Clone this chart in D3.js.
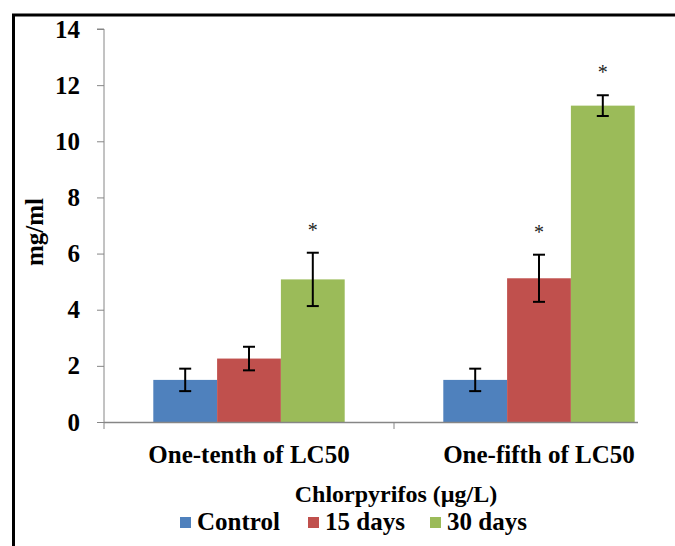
<!DOCTYPE html>
<html>
<head>
<meta charset="utf-8">
<script src="https://cdn.jsdelivr.net/npm/d3@7"></script>
<style>
  html, body { margin: 0; padding: 0; background: #fff; }
  svg { display: block; }
</style>
</head>
<body>
<svg id="chart" width="675" height="546"></svg>
<script>
const categories = ["One-tenth of LC50", "One-fifth of LC50"];
const seriesNames = ["Control", "15 days", "30 days"];
const seriesColors = ["#4F81BD", "#C0504D", "#9BBB59"];
const controlValues = [1.5, 1.5];
const days15Values = [2.26, 5.12];
const days30Values = [5.08, 11.27];
const controlErrors = [0.4, 0.4];
const days15Errors = [0.42, 0.84];
const days30Errors = [0.95, 0.37];
const controlStar = [false, false];
const days15Star = [false, true];
const days30Star = [true, true];
const yTicks = [0, 2, 4, 6, 8, 10, 12, 14];
const yTitle = "mg/ml";
const xTitle = "Chlorpyrifos (µg/L)";

const values = [controlValues, days15Values, days30Values];
const errors = [controlErrors, days15Errors, days30Errors];
const stars = [controlStar, days15Star, days30Star];

const FONT = '"Liberation Serif"';
const svg = d3.select("#chart");
function styleText(sel, size) {
  return sel.style("font-family", FONT).style("font-weight", "bold").style("font-size", size + "px").style("fill", "#000");
}

// outer frame
svg.append("rect").attr("x", 13.5).attr("y", 15).attr("width", 700).attr("height", 560)
  .attr("fill", "none").attr("stroke", "#000").attr("stroke-width", 3);

const y = d3.scaleLinear().domain([0, 14]).range([422, 29]);
const x0 = d3.scaleBand().domain(categories).range([104, 684]).paddingInner(0.34).paddingOuter(0.17);
const x1 = d3.scaleBand().domain(seriesNames).range([0, x0.bandwidth()]);

const axisColor = "#868686";

// y axis
const yAxis = svg.append("g").attr("transform", "translate(104,0)")
  .call(d3.axisLeft(y).tickValues(yTicks).tickSize(7).tickPadding(17));
yAxis.attr("font-family", null);
yAxis.selectAll("path").attr("stroke", axisColor).attr("d", `M-7,${y(14)}H0V${y(0)}`);
yAxis.selectAll("line").attr("stroke", axisColor);
styleText(yAxis.selectAll("text"), 25);

// bars
const data = [];
categories.forEach((c, i) => {
  seriesNames.forEach((s, j) => {
    data.push({ cat: c, ser: s, v: values[j][i], e: errors[j][i], star: stars[j][i], color: seriesColors[j] });
  });
});

svg.append("g").selectAll("rect").data(data).join("rect")
  .attr("x", d => x0(d.cat) + x1(d.ser))
  .attr("y", d => y(d.v))
  .attr("width", x1.bandwidth())
  .attr("height", d => y(0) - y(d.v))
  .attr("fill", d => d.color);

// x axis
const xAxisG = svg.append("g").attr("transform", `translate(0,${y(0)})`);
xAxisG.append("line").attr("x1", 104).attr("x2", 638).attr("y1", 0.5).attr("y2", 0.5)
  .attr("stroke", axisColor).attr("stroke-width", 1.5);
const boundaries = [104, (x0(categories[0]) + x0.bandwidth() + x0(categories[1])) / 2];
xAxisG.selectAll("line.tk").data(boundaries).join("line").attr("class", "tk")
  .attr("x1", d => d).attr("x2", d => d).attr("y1", 0).attr("y2", 7)
  .attr("stroke", axisColor);

styleText(xAxisG.selectAll("text.cat").data(categories).join("text").attr("class", "cat")
  .attr("x", d => x0(d) + x0.bandwidth() / 2)
  .attr("y", 41)
  .attr("text-anchor", "middle"), 25)
  .text(d => d);

// error bars
const eg = svg.append("g").attr("stroke", "#000").attr("stroke-width", 2);
data.forEach(d => {
  const cx = x0(d.cat) + x1(d.ser) + x1.bandwidth() / 2;
  eg.append("line").attr("x1", cx).attr("x2", cx).attr("y1", y(d.v + d.e)).attr("y2", y(d.v - d.e));
  eg.append("line").attr("x1", cx - 6).attr("x2", cx + 6).attr("y1", y(d.v + d.e)).attr("y2", y(d.v + d.e));
  eg.append("line").attr("x1", cx - 6).attr("x2", cx + 6).attr("y1", y(d.v - d.e)).attr("y2", y(d.v - d.e));
  if (d.star) {
    svg.append("text").attr("x", cx).attr("y", y(d.v + d.e) - 16)
      .attr("text-anchor", "middle")
      .style("font-family", FONT).style("font-size", "20px").style("fill", "#222").text("*");
  }
});

// y title
styleText(svg.append("text").attr("transform", "translate(43,232) rotate(-90)")
  .attr("text-anchor", "middle"), 25).text(yTitle);

// x title
styleText(svg.append("text").attr("x", 396).attr("y", 502).attr("text-anchor", "middle"), 24).text(xTitle);

// legend
const legendX = [180, 308, 430];
const lg = svg.append("g");
seriesNames.forEach((s, i) => {
  lg.append("rect").attr("x", legendX[i]).attr("y", 517).attr("width", 11).attr("height", 11).attr("fill", seriesColors[i]);
  styleText(lg.append("text").attr("x", legendX[i] + 17).attr("y", 530), 25).text(s);
});
</script>
</body>
</html>
